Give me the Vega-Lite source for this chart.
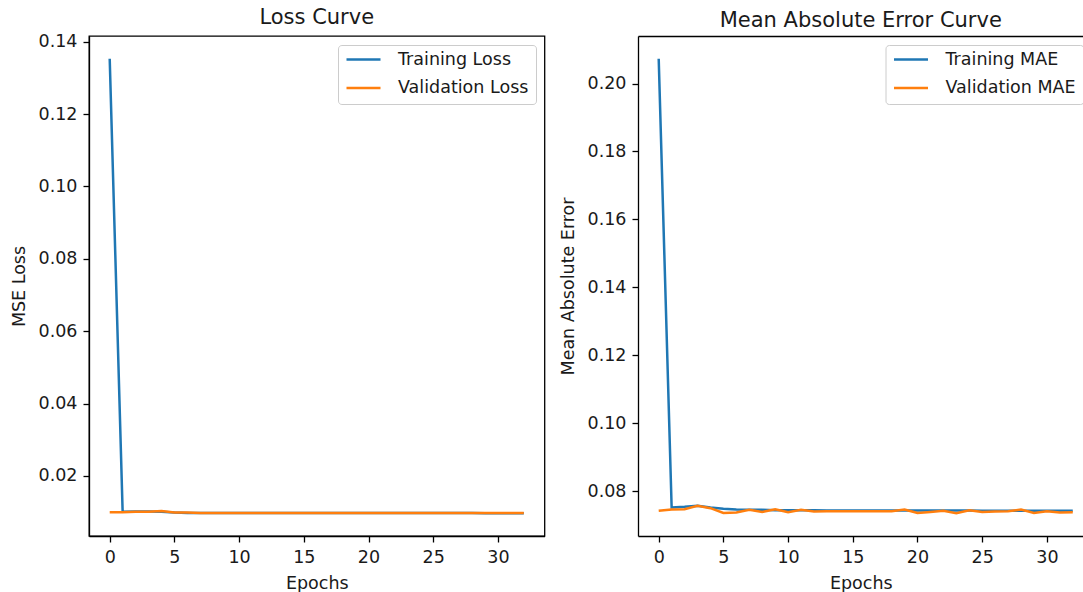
{
  "$schema": "https://vega.github.io/schema/vega-lite/v6.json",
  "padding": {"left": 9, "top": 6, "right": 0, "bottom": 0},
  "background": "white",
  "spacing": 93,
  "bounds": "flush",
  "config": {
    "font": "DejaVu Sans",
    "view": {"stroke": "#000000", "strokeWidth": 1.3},
    "axis": {"domainColor": "#000000", "domainWidth": 1.3, "tickColor": "#000000", "tickWidth": 1.3, "tickSize": 6, "labelPadding": 6, "labelFontSize": 17.5, "labelColor": "#1a1a1a", "titleFontSize": 17.5, "titleFontWeight": "normal", "titleColor": "#1a1a1a", "grid": false, "labelFont": "DejaVu Sans", "titleFont": "DejaVu Sans", "labelFlush": false},
    "axisY": {"titlePadding": 10},
    "axisX": {"titlePadding": 9},
    "title": {"fontSize": 21, "fontWeight": "normal", "color": "#1a1a1a", "offset": 5, "baseline": "alphabetic", "font": "DejaVu Sans"},
    "legend": {"orient": "top-right", "offset": 8.5, "padding": 7, "fillColor": "rgba(255,255,255,0.8)", "strokeColor": "#cccccc", "strokeWidth": 1, "cornerRadius": 3.4, "symbolType": "stroke", "symbolSize": 1156, "symbolStrokeWidth": 2.5, "labelFontSize": 17.5, "labelOffset": 16, "rowPadding": 10.5, "clipHeight": 15, "labelColor": "#1a1a1a", "labelFont": "DejaVu Sans", "labelLimit": 300}
  },
  "datasets": {
    "loss": [
      {"epoch": 0, "series": "Training Loss", "value": 0.1353},
      {"epoch": 1, "series": "Training Loss", "value": 0.0101},
      {"epoch": 2, "series": "Training Loss", "value": 0.0102},
      {"epoch": 3, "series": "Training Loss", "value": 0.0102},
      {"epoch": 4, "series": "Training Loss", "value": 0.0101},
      {"epoch": 5, "series": "Training Loss", "value": 0.0099},
      {"epoch": 6, "series": "Training Loss", "value": 0.0098},
      {"epoch": 7, "series": "Training Loss", "value": 0.0098},
      {"epoch": 8, "series": "Training Loss", "value": 0.0098},
      {"epoch": 9, "series": "Training Loss", "value": 0.0098},
      {"epoch": 10, "series": "Training Loss", "value": 0.0098},
      {"epoch": 11, "series": "Training Loss", "value": 0.0098},
      {"epoch": 12, "series": "Training Loss", "value": 0.0098},
      {"epoch": 13, "series": "Training Loss", "value": 0.0098},
      {"epoch": 14, "series": "Training Loss", "value": 0.0098},
      {"epoch": 15, "series": "Training Loss", "value": 0.0098},
      {"epoch": 16, "series": "Training Loss", "value": 0.0098},
      {"epoch": 17, "series": "Training Loss", "value": 0.0098},
      {"epoch": 18, "series": "Training Loss", "value": 0.0098},
      {"epoch": 19, "series": "Training Loss", "value": 0.0098},
      {"epoch": 20, "series": "Training Loss", "value": 0.0098},
      {"epoch": 21, "series": "Training Loss", "value": 0.0098},
      {"epoch": 22, "series": "Training Loss", "value": 0.0098},
      {"epoch": 23, "series": "Training Loss", "value": 0.0098},
      {"epoch": 24, "series": "Training Loss", "value": 0.0098},
      {"epoch": 25, "series": "Training Loss", "value": 0.0098},
      {"epoch": 26, "series": "Training Loss", "value": 0.0098},
      {"epoch": 27, "series": "Training Loss", "value": 0.0098},
      {"epoch": 28, "series": "Training Loss", "value": 0.0098},
      {"epoch": 29, "series": "Training Loss", "value": 0.0097},
      {"epoch": 30, "series": "Training Loss", "value": 0.0097},
      {"epoch": 31, "series": "Training Loss", "value": 0.0097},
      {"epoch": 32, "series": "Training Loss", "value": 0.0097},
      {"epoch": 0, "series": "Validation Loss", "value": 0.0100},
      {"epoch": 1, "series": "Validation Loss", "value": 0.0100},
      {"epoch": 2, "series": "Validation Loss", "value": 0.0101},
      {"epoch": 3, "series": "Validation Loss", "value": 0.0101},
      {"epoch": 4, "series": "Validation Loss", "value": 0.0103},
      {"epoch": 5, "series": "Validation Loss", "value": 0.0099},
      {"epoch": 6, "series": "Validation Loss", "value": 0.0099},
      {"epoch": 7, "series": "Validation Loss", "value": 0.0098},
      {"epoch": 8, "series": "Validation Loss", "value": 0.0098},
      {"epoch": 9, "series": "Validation Loss", "value": 0.0098},
      {"epoch": 10, "series": "Validation Loss", "value": 0.0098},
      {"epoch": 11, "series": "Validation Loss", "value": 0.0098},
      {"epoch": 12, "series": "Validation Loss", "value": 0.0098},
      {"epoch": 13, "series": "Validation Loss", "value": 0.0098},
      {"epoch": 14, "series": "Validation Loss", "value": 0.0098},
      {"epoch": 15, "series": "Validation Loss", "value": 0.0098},
      {"epoch": 16, "series": "Validation Loss", "value": 0.0098},
      {"epoch": 17, "series": "Validation Loss", "value": 0.0098},
      {"epoch": 18, "series": "Validation Loss", "value": 0.0098},
      {"epoch": 19, "series": "Validation Loss", "value": 0.0098},
      {"epoch": 20, "series": "Validation Loss", "value": 0.0098},
      {"epoch": 21, "series": "Validation Loss", "value": 0.0098},
      {"epoch": 22, "series": "Validation Loss", "value": 0.0098},
      {"epoch": 23, "series": "Validation Loss", "value": 0.0098},
      {"epoch": 24, "series": "Validation Loss", "value": 0.0098},
      {"epoch": 25, "series": "Validation Loss", "value": 0.0098},
      {"epoch": 26, "series": "Validation Loss", "value": 0.0098},
      {"epoch": 27, "series": "Validation Loss", "value": 0.0098},
      {"epoch": 28, "series": "Validation Loss", "value": 0.0098},
      {"epoch": 29, "series": "Validation Loss", "value": 0.0098},
      {"epoch": 30, "series": "Validation Loss", "value": 0.0098},
      {"epoch": 31, "series": "Validation Loss", "value": 0.0098},
      {"epoch": 32, "series": "Validation Loss", "value": 0.0098}
    ],
    "mae": [
      {"epoch": 0, "series": "Training MAE", "value": 0.2073},
      {"epoch": 1, "series": "Training MAE", "value": 0.0752},
      {"epoch": 2, "series": "Training MAE", "value": 0.0754},
      {"epoch": 3, "series": "Training MAE", "value": 0.0757},
      {"epoch": 4, "series": "Training MAE", "value": 0.0752},
      {"epoch": 5, "series": "Training MAE", "value": 0.0748},
      {"epoch": 6, "series": "Training MAE", "value": 0.0746},
      {"epoch": 7, "series": "Training MAE", "value": 0.0745},
      {"epoch": 8, "series": "Training MAE", "value": 0.0745},
      {"epoch": 9, "series": "Training MAE", "value": 0.0744},
      {"epoch": 10, "series": "Training MAE", "value": 0.0744},
      {"epoch": 11, "series": "Training MAE", "value": 0.0744},
      {"epoch": 12, "series": "Training MAE", "value": 0.0744},
      {"epoch": 13, "series": "Training MAE", "value": 0.0743},
      {"epoch": 14, "series": "Training MAE", "value": 0.0743},
      {"epoch": 15, "series": "Training MAE", "value": 0.0743},
      {"epoch": 16, "series": "Training MAE", "value": 0.0743},
      {"epoch": 17, "series": "Training MAE", "value": 0.0743},
      {"epoch": 18, "series": "Training MAE", "value": 0.0743},
      {"epoch": 19, "series": "Training MAE", "value": 0.0743},
      {"epoch": 20, "series": "Training MAE", "value": 0.0743},
      {"epoch": 21, "series": "Training MAE", "value": 0.0743},
      {"epoch": 22, "series": "Training MAE", "value": 0.0743},
      {"epoch": 23, "series": "Training MAE", "value": 0.0743},
      {"epoch": 24, "series": "Training MAE", "value": 0.0743},
      {"epoch": 25, "series": "Training MAE", "value": 0.0742},
      {"epoch": 26, "series": "Training MAE", "value": 0.0742},
      {"epoch": 27, "series": "Training MAE", "value": 0.0742},
      {"epoch": 28, "series": "Training MAE", "value": 0.0742},
      {"epoch": 29, "series": "Training MAE", "value": 0.0742},
      {"epoch": 30, "series": "Training MAE", "value": 0.0742},
      {"epoch": 31, "series": "Training MAE", "value": 0.0742},
      {"epoch": 32, "series": "Training MAE", "value": 0.0742},
      {"epoch": 0, "series": "Validation MAE", "value": 0.0742},
      {"epoch": 1, "series": "Validation MAE", "value": 0.0746},
      {"epoch": 2, "series": "Validation MAE", "value": 0.0747},
      {"epoch": 3, "series": "Validation MAE", "value": 0.0757},
      {"epoch": 4, "series": "Validation MAE", "value": 0.0750},
      {"epoch": 5, "series": "Validation MAE", "value": 0.0736},
      {"epoch": 6, "series": "Validation MAE", "value": 0.0737},
      {"epoch": 7, "series": "Validation MAE", "value": 0.0745},
      {"epoch": 8, "series": "Validation MAE", "value": 0.0739},
      {"epoch": 9, "series": "Validation MAE", "value": 0.0747},
      {"epoch": 10, "series": "Validation MAE", "value": 0.0738},
      {"epoch": 11, "series": "Validation MAE", "value": 0.0745},
      {"epoch": 12, "series": "Validation MAE", "value": 0.0740},
      {"epoch": 13, "series": "Validation MAE", "value": 0.0741},
      {"epoch": 14, "series": "Validation MAE", "value": 0.0741},
      {"epoch": 15, "series": "Validation MAE", "value": 0.0741},
      {"epoch": 16, "series": "Validation MAE", "value": 0.0741},
      {"epoch": 17, "series": "Validation MAE", "value": 0.0741},
      {"epoch": 18, "series": "Validation MAE", "value": 0.0741},
      {"epoch": 19, "series": "Validation MAE", "value": 0.0746},
      {"epoch": 20, "series": "Validation MAE", "value": 0.0736},
      {"epoch": 21, "series": "Validation MAE", "value": 0.0739},
      {"epoch": 22, "series": "Validation MAE", "value": 0.0742},
      {"epoch": 23, "series": "Validation MAE", "value": 0.0735},
      {"epoch": 24, "series": "Validation MAE", "value": 0.0744},
      {"epoch": 25, "series": "Validation MAE", "value": 0.0739},
      {"epoch": 26, "series": "Validation MAE", "value": 0.0740},
      {"epoch": 27, "series": "Validation MAE", "value": 0.0741},
      {"epoch": 28, "series": "Validation MAE", "value": 0.0746},
      {"epoch": 29, "series": "Validation MAE", "value": 0.0736},
      {"epoch": 30, "series": "Validation MAE", "value": 0.0741},
      {"epoch": 31, "series": "Validation MAE", "value": 0.0737},
      {"epoch": 32, "series": "Validation MAE", "value": 0.0738}
    ]
  },
  "hconcat": [
    {
      "data": {"name": "loss"},
      "width": 455.5,
      "height": 500,
      "title": "Loss Curve",
      "mark": {"type": "line", "strokeWidth": 2.5},
      "encoding": {
        "x": {"field": "epoch", "type": "quantitative", "scale": {"domain": [-1.6, 33.6], "nice": false, "zero": false}, "axis": {"values": [0, 5, 10, 15, 20, 25, 30], "title": "Epochs", "format": "d"}},
        "y": {"field": "value", "type": "quantitative", "scale": {"domain": [0.00342, 0.14158], "nice": false, "zero": false}, "axis": {"values": [0.02, 0.04, 0.06, 0.08, 0.1, 0.12, 0.14], "format": ".2f", "title": "MSE Loss"}},
        "color": {"field": "series", "type": "nominal", "scale": {"domain": ["Training Loss", "Validation Loss"], "range": ["#1f77b4", "#ff7f0e"]}, "legend": {"title": null}}
      }
    },
    {
      "data": {"name": "mae"},
      "width": 445.5,
      "height": 500,
      "title": "Mean Absolute Error Curve",
      "view": {"stroke": null},
      "layer": [
        {
          "mark": {"type": "line", "strokeWidth": 2.5},
          "encoding": {
            "x": {"field": "epoch", "type": "quantitative", "scale": {"domain": [-1.6, 32.83], "nice": false, "zero": false}, "axis": {"values": [0, 5, 10, 15, 20, 25, 30], "title": "Epochs", "format": "d"}},
            "y": {"field": "value", "type": "quantitative", "scale": {"domain": [0.0668, 0.214], "nice": false, "zero": false}, "axis": {"values": [0.08, 0.1, 0.12, 0.14, 0.16, 0.18, 0.2], "format": ".2f", "title": "Mean Absolute Error"}},
            "color": {"field": "series", "type": "nominal", "scale": {"domain": ["Training MAE", "Validation MAE"], "range": ["#1f77b4", "#ff7f0e"]}, "legend": {"title": null, "orient": "none", "legendX": 247.5, "legendY": 9}}
          }
        },
        {
          "mark": {"type": "line", "opacity": 0},
          "encoding": {
            "x": {"field": "epoch", "type": "quantitative", "axis": {"orient": "top", "labels": false, "ticks": false, "title": null, "domain": true}},
            "y": {"field": "value", "type": "quantitative"}
          }
        }
      ],
      "resolve": {"axis": {"x": "independent"}}
    }
  ],
  "resolve": {"scale": {"color": "independent"}, "legend": {"color": "independent"}}
}
